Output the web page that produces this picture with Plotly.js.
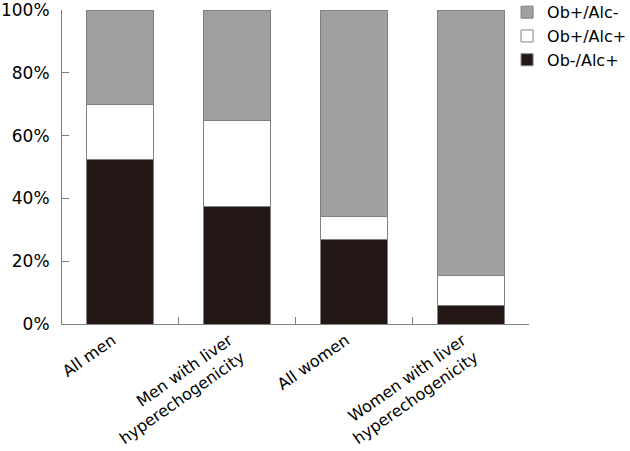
<!DOCTYPE html>
<html><head><meta charset="utf-8">
<script src="https://cdn.plot.ly/plotly-3.0.1.min.js"></script>
<style>html,body{margin:0;padding:0;background:#fff}#chart{width:630px;height:451px}</style>
</head><body><div id="chart"></div>
<script>
const categories = ["All men", "Men with liver<br>hyperechogenicity", "All women", "Women with liver<br>hyperechogenicity"];
const obNegAlcPos = [52.5, 37.3, 27.0, 5.8];
const obPosAlcPos = [17.3, 27.4, 7.3, 9.5];
const obPosAlcNeg = [30.2, 35.3, 65.7, 84.7];
const seriesNames = ["Ob-/Alc+", "Ob+/Alc+", "Ob+/Alc-"];

const line = {color: '#7f7f7f', width: 1};
const data = [
  {type:'bar', name: seriesNames[0], x: categories, y: obNegAlcPos, marker:{color:'#231816', line: line}},
  {type:'bar', name: seriesNames[1], x: categories, y: obPosAlcPos, marker:{color:'#ffffff', line: line}},
  {type:'bar', name: seriesNames[2], x: categories, y: obPosAlcNeg, marker:{color:'#a0a0a0', line: line}}
];
const layout = {
  width: 630, height: 451,
  margin: {l: 62, r: 101, t: 10, b: 127, autoexpand: false},
  barmode: 'stack', bargap: 0.425,
  paper_bgcolor: '#fff', plot_bgcolor: '#fff',
  font: {family: 'DejaVu Sans, Verdana, sans-serif', size: 16, color: '#000'},
  showlegend: true,
  legend: {x: 0.953, xanchor: 'left', y: 1.047, yanchor: 'top', traceorder: 'reversed', font: {size: 16}, bgcolor: 'rgba(0,0,0,0)', itemwidth: 30},
  xaxis: {automargin: false, showline: true, linecolor: '#7f7f7f', linewidth: 1, ticks: 'inside', tickson: 'boundaries', ticklen: 7, tickcolor: '#7f7f7f', tickangle: -35, showgrid: false, zeroline: false, tickfont: {size: 16}, ticklabelshift: -8},
  yaxis: {automargin: false, range: [0, 100], dtick: 20, ticksuffix: '%', showline: true, linecolor: '#7f7f7f', linewidth: 1, ticks: 'inside', ticklen: 7, tickcolor: '#7f7f7f', showgrid: false, zeroline: false, tickfont: {size: 17}, ticklabeloverflow: 'allow', ticklabelstandoff: 8}
};
Plotly.newPlot('chart', data, layout, {displayModeBar: false, staticPlot: true});
</script></body></html>
